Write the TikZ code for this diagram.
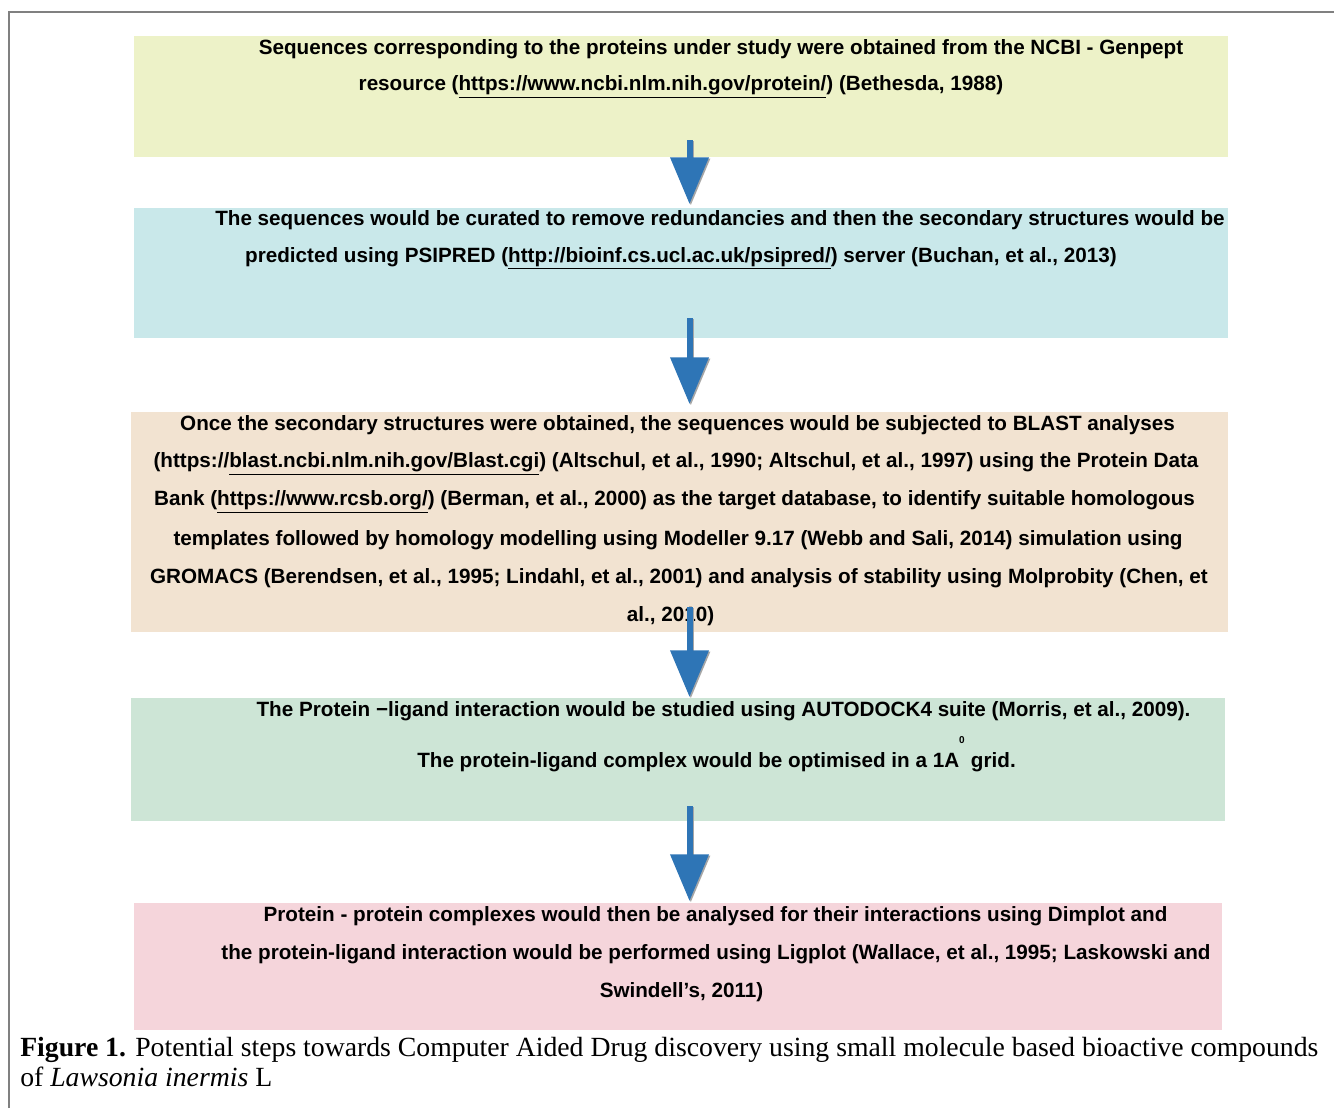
\documentclass[tikz,border=0pt]{standalone}
\usepackage{fontspec}
\setmainfont{Liberation Sans}
\newfontfamily\capfont{Liberation Serif}
\usetikzlibrary{arrows.meta}
\definecolor{cA}{RGB}{237,242,200}
\definecolor{cB}{RGB}{201,232,234}
\definecolor{cC}{RGB}{242,227,209}
\definecolor{cD}{RGB}{205,229,214}
\definecolor{cE}{RGB}{245,213,219}
\definecolor{arrblue}{RGB}{46,117,182}
\definecolor{framegray}{RGB}{128,128,128}
\begin{document}
\begin{tikzpicture}[x=0.75pt,y=-0.75pt,
  txt/.style={inner sep=0,anchor=center,font=\bfseries\fontsize{15.5}{18}\selectfont},
  bluearrow/.style={arrblue,line width=4.5pt,-{Triangle[width=28pt,length=35pt]}},
  shadowarrow/.style={framegray!70,line width=4.5pt,-{Triangle[width=28pt,length=35pt]}},
  captxt/.style={inner sep=0,anchor=west,font=\capfont\fontsize{20.8}{24}\selectfont}]
\useasboundingbox (0,0) rectangle (1334,1108);
\draw[framegray,line width=1.5pt] (9,1108) -- (9,12) -- (1334,12);
% panels
\fill[cA] (134,36) rectangle (1228,157);
\fill[cB] (134,208) rectangle (1228,338);
\fill[cC] (131,412) rectangle (1228,632);
\fill[cD] (131,698) rectangle (1225,821);
\fill[cE] (134,903) rectangle (1222,1030);
% text box 1
\node[txt] (t11) at (721,49) {Sequences corresponding to the proteins under study were obtained from the NCBI - Genpept};
\node[txt] (t12) at (681,87) {resource (\underline{https://www.ncbi.nlm.nih.gov/protein/}) (Bethesda, 1988)};
% text box 2
\node[txt] (t21) at (720,220) {The sequences would be curated to remove redundancies and then the secondary structures would be};
\node[txt] (t22) at (681,258) {predicted using PSIPRED (\underline{http://bioinf.cs.ucl.ac.uk/psipred/}) server (Buchan, et al., 2013)};
% text box 3
\node[txt] (t31) at (677.5,425) {Once the secondary structures were obtained, the sequences would be subjected to BLAST analyses};
\node[txt] (t32) at (676,464) {(https://\underline{blast.ncbi.nlm.nih.gov/Blast.cgi}) (Altschul, et al., 1990; Altschul, et al., 1997) using the Protein Data};
\node[txt] (t33) at (674.5,502) {Bank (\underline{https://www.rcsb.org/}) (Berman, et al., 2000) as the target database, to identify suitable homologous};
\node[txt] (t34) at (678,540) {templates followed by homology modelling using Modeller 9.17 (Webb and Sali, 2014) simulation using};
\node[txt] (t35) at (679,578) {GROMACS (Berendsen, et al., 1995; Lindahl, et al., 2001) and analysis of stability using Molprobity (Chen, et};
\node[txt] (t36) at (670.5,616) {al., 2010)};
% text box 4
\node[txt] (t41) at (723.5,711) {The Protein −ligand interaction would be studied using AUTODOCK4 suite (Morris, et al., 2009).};
\node[txt] (t42) at (716.5,762) {The protein-ligand complex would be optimised in a 1A\smash{\raisebox{1.15em}{\fontsize{7.5}{8}\selectfont 0}}\hspace{0.3em}grid.};
% text box 5
\node[txt] (t51) at (715.5,916) {Protein - protein complexes would then be analysed for their interactions using Dimplot and};
\node[txt] (t52) at (716,954) {the protein-ligand interaction would be performed using Ligplot (Wallace, et al., 1995; Laskowski and};
\node[txt] (t53) at (681.5,992) {Swindell’s, 2011)};
% arrows
\coordinate (a1s) at (689.5,140); \coordinate (a1e) at (689.5,204);
\coordinate (a2s) at (689.5,318); \coordinate (a2e) at (689.5,404);
\coordinate (a3s) at (689.5,607); \coordinate (a3e) at (689.5,697);
\coordinate (a4s) at (689.5,806); \coordinate (a4e) at (689.5,901);
\foreach \s/\e in {a1s/a1e,a2s/a2e,a3s/a3e,a4s/a4e}{
  \draw[shadowarrow,transform canvas={shift={(1pt,-1pt)}}] (\s) -- (\e);
  \draw[bluearrow] (\s) -- (\e);
}
% caption
\node[captxt] (c1) at (20,1050) {\textbf{Figure 1.} Potential steps towards Computer Aided Drug discovery using small molecule based bioactive compounds};
\node[captxt] (c2) at (20,1077) {of \textit{Lawsonia inermis} L};
\end{tikzpicture}
\end{document}
